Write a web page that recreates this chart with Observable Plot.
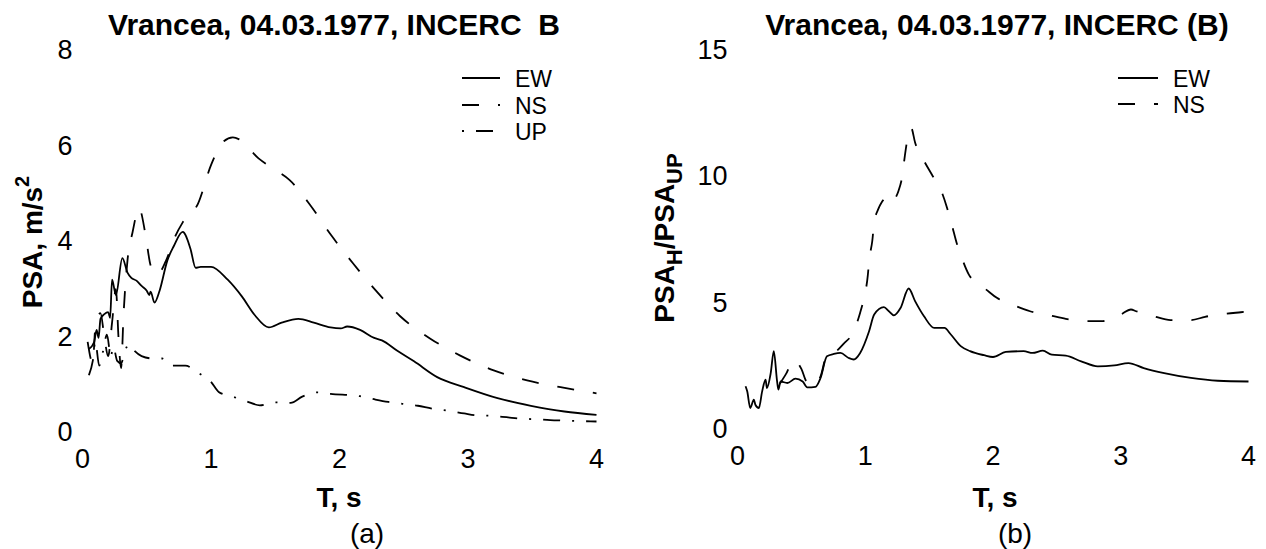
<!DOCTYPE html>
<html>
<head>
<meta charset="utf-8">
<script src="https://cdn.jsdelivr.net/npm/d3@7"></script>
<script src="https://cdn.jsdelivr.net/npm/@observablehq/plot@0.6"></script>
<style>
  html, body { margin: 0; padding: 0; background: #fff; }
  #fig { position: relative; width: 1266px; height: 549px; overflow: hidden; font-family: "Liberation Sans", Arial, sans-serif; }
  .panel { position: absolute; top: 0; width: 633px; height: 549px; }
  #overlay { position: absolute; left: 0; top: 0; pointer-events: none; }
  #overlay text { font-family: "Liberation Sans", Arial, sans-serif; fill: #000; white-space: pre; }
</style>
</head>
<body>
<div id="fig">
  <div class="panel" id="panelA" style="left:0"></div>
  <div class="panel" id="panelB" style="left:633px"></div>
</div>
<script>
// Panel (a): pseudo-spectral acceleration PSA (m/s²) versus period T (s)
const ewT_a = [0.05,0.09,0.11,0.125,0.14,0.17,0.2,0.215,0.23,0.26,0.31,0.35,0.38,0.42,0.46,0.5,0.52,0.53,0.56,0.6,0.66,0.71,0.78,0.84,0.88,0.92,1.0,1.13,1.24,1.34,1.45,1.55,1.68,1.8,1.93,2.01,2.06,2.16,2.27,2.33,2.45,2.58,2.76,2.97,3.23,3.49,3.75,4.0];
const ewPSA_a = [1.75,1.89,2.15,1.98,2.38,2.48,2.52,2.4,3.2,2.88,3.65,3.35,3.24,3.18,3.07,2.97,2.88,2.95,2.72,2.97,3.6,3.9,4.2,3.85,3.45,3.47,3.47,3.2,2.85,2.46,2.2,2.3,2.38,2.3,2.2,2.18,2.22,2.15,1.98,1.93,1.71,1.49,1.16,0.95,0.72,0.56,0.44,0.37];

const nsT_a = [0.04,0.08,0.1,0.14,0.17,0.2,0.23,0.26,0.28,0.3,0.32,0.35,0.39,0.44,0.49,0.53,0.58,0.65,0.72,0.78,0.9,1.0,1.1,1.17,1.22,1.37,1.5,1.61,1.77,1.93,2.1,2.28,2.47,2.71,2.94,3.2,3.46,3.72,4.0];
const nsPSA_a = [1.9,1.45,2.2,2.5,2.0,1.6,2.3,3.0,2.0,1.35,2.5,3.6,4.2,4.7,4.15,3.5,3.3,3.6,4.1,4.4,4.8,5.6,6.1,6.18,6.14,5.74,5.5,5.29,4.77,4.15,3.56,2.98,2.44,1.96,1.61,1.3,1.09,0.95,0.82];

const upT_a = [0.05,0.08,0.1,0.13,0.16,0.19,0.22,0.24,0.27,0.3,0.33,0.36,0.39,0.46,0.55,0.62,0.7,0.8,0.9,1.0,1.06,1.17,1.27,1.38,1.49,1.62,1.71,1.83,1.93,2.16,2.28,2.38,2.49,2.61,2.72,2.84,2.97,3.07,3.18,3.3,3.41,3.51,3.64,3.75,3.86,4.0];
const upPSA_a = [1.2,1.5,1.9,1.4,1.7,2.05,1.6,1.8,1.5,1.45,1.7,1.85,1.75,1.6,1.55,1.55,1.4,1.4,1.25,1.06,0.85,0.75,0.66,0.57,0.63,0.62,0.75,0.84,0.81,0.76,0.69,0.64,0.6,0.56,0.5,0.46,0.4,0.36,0.35,0.32,0.29,0.28,0.26,0.25,0.24,0.23];

// Panel (b): ratio of horizontal to vertical PSA
const ewT_b = [0.063,0.076,0.1,0.128,0.14,0.167,0.193,0.22,0.23,0.26,0.284,0.31,0.32,0.337,0.39,0.454,0.51,0.546,0.61,0.65,0.7,0.754,0.806,0.87,0.91,0.96,1.03,1.07,1.146,1.185,1.224,1.276,1.34,1.39,1.46,1.54,1.62,1.67,1.75,1.82,1.93,2.0,2.1,2.24,2.31,2.39,2.46,2.57,2.69,2.82,2.95,3.06,3.18,3.34,3.55,3.76,4.0];
const ewRatio_b = [1.71,1.51,0.85,1.18,0.98,0.85,1.51,1.97,1.64,2.23,3.1,1.9,1.58,1.9,1.84,2.01,1.9,1.67,1.69,2.04,2.9,2.99,3.03,2.83,2.77,3.03,3.89,4.55,4.84,4.68,4.52,4.81,5.58,5.08,4.48,4.02,4.02,3.76,3.29,3.1,2.94,2.87,3.07,3.1,3.03,3.12,2.96,2.92,2.7,2.5,2.54,2.63,2.43,2.23,2.04,1.93,1.9];

const nsT_b = [0.33,0.38,0.44,0.5,0.54,0.6,0.65,0.7,0.76,0.83,0.91,0.96,0.99,1.02,1.03,1.055,1.07,1.1,1.13,1.165,1.2,1.24,1.26,1.29,1.31,1.33,1.36,1.39,1.46,1.52,1.6,1.64,1.68,1.715,1.76,1.81,1.87,1.93,2.03,2.18,2.29,2.45,2.57,2.73,2.86,3.0,3.08,3.12,3.26,3.39,3.55,3.66,3.82,3.94,4.02];
const nsRatio_b = [1.8,2.2,2.75,2.4,1.9,1.75,2.1,2.95,3.05,3.39,3.89,4.62,5.21,6.1,6.67,7.46,8.19,8.7,9.0,9.2,9.0,9.2,9.44,10.04,10.83,11.5,11.93,11.36,10.63,10.1,9.38,8.78,8.06,7.39,6.73,6.14,5.8,5.6,5.21,4.88,4.68,4.51,4.38,4.29,4.29,4.55,4.75,4.68,4.48,4.33,4.33,4.46,4.58,4.64,4.68];

const ticksA = [0, 2, 4, 6, 8];
const ticksB = [0, 5, 10, 15];
const periodTicks = [0, 1, 2, 3, 4];

const rows = (ts, vs) => ts.map((t, i) => ({T: t, v: vs[i]}));

const FONT = '"Liberation Sans", Arial, sans-serif';
const styles = {
  EW: {stroke: "#000", strokeWidth: 1.8},
  NS: {stroke: "#000", strokeWidth: 1.8, strokeDasharray: "17,19"},
  UP: {stroke: "#000", strokeWidth: 1.8, strokeDasharray: "17,12,2,12"}
};
const intLabel = (d) => String(d);

function panel({yDomain, yTicks, series, marginLeft, marginRight, marginBottom}) {
  return Plot.plot({
    width: 633,
    height: 549,
    marginTop: 50,
    marginBottom,
    marginLeft,
    marginRight,
    style: {fontFamily: FONT, fontSize: "27px", background: "transparent", color: "#000", overflow: "visible"},
    x: {domain: [0, 4], ticks: periodTicks, tickFormat: intLabel, tickSize: 0, tickPadding: 16, label: null},
    y: {domain: yDomain, ticks: yTicks, tickFormat: intLabel, tickSize: 0, tickPadding: 10, label: null},
    marks: series.map(([data, name]) =>
      Plot.line(data, {x: "T", y: "v", curve: "monotone-x", strokeLinecap: "butt", ...styles[name]})
    )
  });
}

document.getElementById("panelA").append(panel({
  yDomain: [0, 8], yTicks: ticksA, marginLeft: 82, marginRight: 37, marginBottom: 117,
  series: [[rows(upT_a, upPSA_a), "UP"], [rows(nsT_a, nsPSA_a), "NS"], [rows(ewT_a, ewPSA_a), "EW"]]
}));

document.getElementById("panelB").append(panel({
  yDomain: [0, 15], yTicks: ticksB, marginLeft: 104, marginRight: 18, marginBottom: 120,
  series: [[rows(nsT_b, nsRatio_b), "NS"], [rows(ewT_b, ewRatio_b), "EW"]]
}));

// Titles, axis names, panel letters and legends
const NS = "http://www.w3.org/2000/svg";
const ov = document.createElementNS(NS, "svg");
ov.setAttribute("id", "overlay");
ov.setAttribute("width", 1266);
ov.setAttribute("height", 549);
document.getElementById("fig").append(ov);

function text(x, y, str, {size = 28, weight = "normal", anchor = "middle", rotate = 0} = {}) {
  const t = document.createElementNS(NS, "text");
  t.setAttribute("x", x);
  t.setAttribute("y", y);
  t.setAttribute("font-size", size);
  t.setAttribute("font-weight", weight);
  t.setAttribute("text-anchor", anchor);
  if (rotate) t.setAttribute("transform", `rotate(${rotate},${x},${y})`);
  t.textContent = str;
  ov.append(t);
  return t;
}
function tspan(parent, str, {size, shift = 0} = {}) {
  const s = document.createElementNS(NS, "tspan");
  if (size) s.setAttribute("font-size", size);
  if (shift) s.setAttribute("dy", shift);
  s.textContent = str;
  parent.append(s);
  return s;
}
function sample(x1, x2, y, name, offset = 0) {
  const l = document.createElementNS(NS, "line");
  l.setAttribute("x1", x1); l.setAttribute("x2", x2);
  l.setAttribute("y1", y); l.setAttribute("y2", y);
  l.setAttribute("stroke", "#000");
  l.setAttribute("stroke-width", styles[name].strokeWidth);
  if (styles[name].strokeDasharray) l.setAttribute("stroke-dasharray", styles[name].strokeDasharray);
  if (offset) l.setAttribute("stroke-dashoffset", offset);
  ov.append(l);
}

text(334, 35, "Vrancea, 04.03.1977, INCERC  B", {size: 30, weight: "bold"});
text(997, 35, "Vrancea, 04.03.1977, INCERC (B)", {size: 30, weight: "bold"});

text(339, 507, "T, s", {weight: "bold"});
text(995, 507, "T, s", {weight: "bold"});
text(367, 543, "(a)");
text(1015, 543, "(b)");

// y-axis names
const ya = text(42, 242, "", {weight: "bold", rotate: -90});
tspan(ya, "PSA, m/s");
tspan(ya, "2", {size: 20, shift: -13});

const yb = text(674, 238, "", {weight: "bold", rotate: -90});
tspan(yb, "PSA");
tspan(yb, "H", {size: 22, shift: 8});
tspan(yb, "/PSA", {shift: -8});
tspan(yb, "UP", {size: 22, shift: 8});

// legends
const legA = [["EW", 78], ["NS", 105], ["UP", 131]];
for (const [name, y] of legA) {
  sample(462, 500, y, name, name === "UP" ? 29 : 0);
  text(515, y + 8.5, name, {size: 23, anchor: "start"});
}
const legB = [["EW", 78], ["NS", 104]];
for (const [name, y] of legB) {
  sample(1118, 1158, y, name);
  text(1173, y + 8.5, name, {size: 23, anchor: "start"});
}
</script>
</body>
</html>
